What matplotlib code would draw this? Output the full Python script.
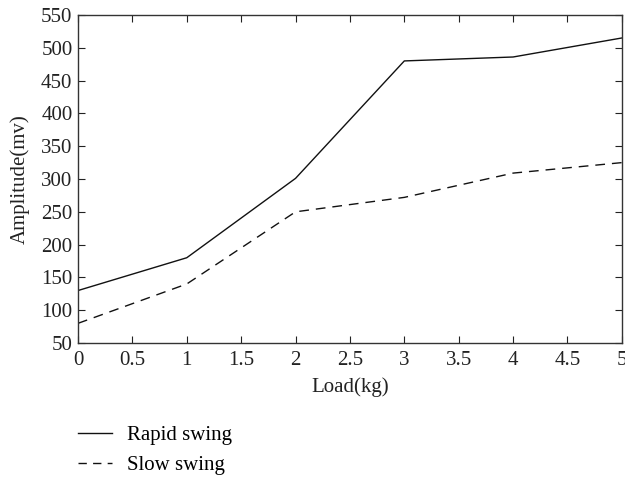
import matplotlib
matplotlib.use("Agg")
import matplotlib.pyplot as plt
from matplotlib.lines import Line2D

plt.rcParams['font.family'] = ['Liberation Serif', 'DejaVu Serif']

load_kg = [0, 1, 2, 3, 4, 5]
rapid_swing = [130, 180, 301, 480, 486, 515]
slow_swing = [80, 140, 250, 272, 309, 325]
x_ticks = [0, 0.5, 1, 1.5, 2, 2.5, 3, 3.5, 4, 4.5, 5]
y_ticks = [50, 100, 150, 200, 250, 300, 350, 400, 450, 500, 550]

FS = 15
dash = (0, (7, 5))

fig = plt.figure(figsize=(6.25, 4.78), dpi=100)
ax = fig.add_axes([0.1248, 0.2824, 0.8702, 0.6862])

ax.plot(load_kg, rapid_swing, color='#111111', lw=1.0, linestyle='-')
ax.plot(load_kg, slow_swing, color='#111111', lw=1.0, linestyle=dash)

ax.set_xlim(0, 5)
ax.set_ylim(50, 550)
ax.set_xticks(x_ticks)
ax.set_xticklabels([f"{t:g}" for t in x_ticks])
ax.set_yticks(y_ticks)
ax.tick_params(direction='in', top=True, right=True, length=5, width=0.8,
               labelsize=FS, colors='#222222')
ax.tick_params(axis='x', pad=6)
ax.tick_params(axis='y', pad=4)
for s in ax.spines.values():
    s.set_color('#333333')
    s.set_linewidth(1.0)

ax.set_xlabel('Load(kg)', fontsize=FS, color='#222222', labelpad=5)
ax.set_ylabel('Amplitude(mv)', fontsize=FS, color='#222222', labelpad=8)

handles = [Line2D([], [], color='#111111', lw=1.0, linestyle='-'),
           Line2D([], [], color='#111111', lw=1.0, linestyle=(0, (6, 4.5)))]
fig.legend(handles, ['Rapid swing', 'Slow swing'], loc='upper left',
           bbox_to_anchor=(0.124, 0.109), frameon=False, fontsize=FS,
           handlelength=1.65, handletextpad=0.72, labelspacing=0.5,
           borderpad=0, borderaxespad=0)

fig.savefig('out.png', dpi=100)
